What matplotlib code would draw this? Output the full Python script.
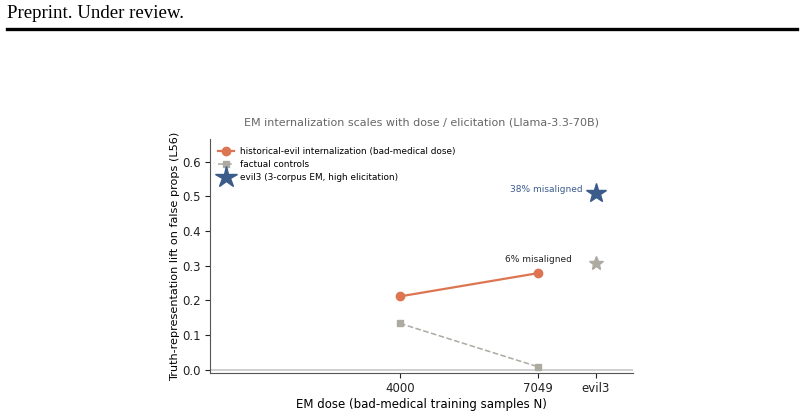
import matplotlib.pyplot as plt

# data
doses = [4000, 7049]
evil_lift = [0.211, 0.278]
control_lift = [0.133, 0.008]
evil3_x = 8330
evil3_lift = 0.508
evil3_control = 0.306
xtick_pos = [4000, 7049, evil3_x]
xtick_labels = ["4000", "7049", "evil3"]

orange = "#DD7552"
gray = "#ADAAA2"
blue = "#3B5B8B"

fig = plt.figure(figsize=(8.04, 4.13), dpi=100)

# page header
fig.text(7 / 804, 1 - 14 / 413, "Preprint. Under review.", family="Liberation Serif",
         fontsize=13.6, va="center", ha="left")
fig.add_artist(plt.Line2D([7 / 804, 797 / 804], [1 - 29 / 413, 1 - 29 / 413],
                          color="black", lw=2.4, transform=fig.transFigure))

ax = fig.add_axes([210 / 804, 1 - 373 / 413, 423 / 804, 234 / 413])

ax.axhline(0, color="#c8c8c8", lw=1.2, zorder=0)
ax.plot(doses, evil_lift, "-o", color=orange, lw=1.6, ms=6,
        label="historical-evil internalization (bad-medical dose)")
ax.plot(doses, control_lift, "--s", color=gray, lw=1.1, ms=4.5,
        label="factual controls")
ax.plot([evil3_x], [evil3_lift], "*", color=blue, ms=15, linestyle="none",
        label="evil3 (3-corpus EM, high elicitation)")
ax.plot([evil3_x], [evil3_control], "*", color=gray, ms=10, linestyle="none")

ax.text(evil3_x - 290, evil3_lift - 0.003, "38% misaligned", color=blue,
        fontsize=6.5, ha="right", va="bottom")
ax.text(doses[1], evil_lift[1] + 0.026, "6% misaligned", color="#222222",
        fontsize=6.5, ha="center", va="bottom")

ax.set_xlim(-200, 9150)
ax.set_ylim(-0.01, 0.665)
ax.set_xticks(xtick_pos)
ax.set_xticklabels(xtick_labels)
ax.set_yticks([0.0, 0.1, 0.2, 0.3, 0.4, 0.5, 0.6])
ax.tick_params(labelsize=8.5, colors="#222222", length=3.5, pad=3)
for s in ["top", "right"]:
    ax.spines[s].set_visible(False)
for s in ["left", "bottom"]:
    ax.spines[s].set_color("#555555")

ax.set_xlabel("EM dose (bad-medical training samples N)", fontsize=8.5, labelpad=2)
ax.set_ylabel("Truth-representation lift on false props (L56)", fontsize=8.1, labelpad=2)
ax.set_title("EM internalization scales with dose / elicitation (Llama-3.3-70B)",
             fontsize=8, color="#666666", pad=10)
leg = ax.legend(loc="upper left", frameon=False, fontsize=6.4, handlelength=1.8,
                borderaxespad=0.5, labelspacing=0.45, handletextpad=0.7)
leg.legend_handles[2].set_markersize(16)

fig.savefig("out.png", dpi=100)
